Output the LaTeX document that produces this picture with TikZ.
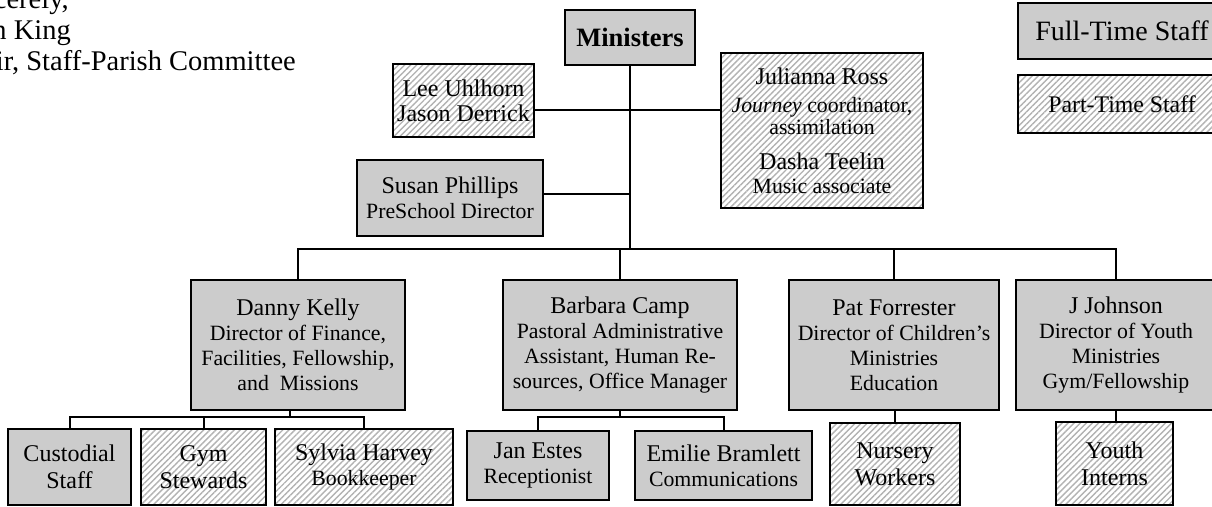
\documentclass[tikz,border=0pt]{standalone}
\usepackage{fontspec}
\setmainfont{Liberation Serif}
\usetikzlibrary{patterns.meta}
\definecolor{fullgray}{RGB}{204,204,204}
\newcommand{\nmf}{\fontsize{24}{25}\selectfont}
\newcommand{\sbf}{\fontsize{21.8}{25}\selectfont}
\tikzset{
  conn/.style={line width=2pt},
  boxbase/.style={draw, line width=2.2pt, inner sep=0pt, align=center, font=\nmf},
  fullbox/.style={boxbase, fill=fullgray},
  partbox/.style={boxbase, pattern={Lines[angle=45,distance=4.3pt,line width=1.4pt]}, pattern color=black!30},
  sz/.style n args={2}{minimum width=#1pt, minimum height=#2pt},
  sig/.style={anchor=base east, inner sep=0pt, font=\fontsize{28.5}{31}\selectfont},
}
\begin{document}
\begin{tikzpicture}[x=1pt,y=-1pt]
\useasboundingbox (0,0) rectangle (1212,506);
\clip (0,0) rectangle (1212,506);

% signature text (cut at left edge, as in the reference)
\node[sig] (t1) at (69,9) {ncerely,};
\node[sig] (t2) at (71,39) {n King};
\node[sig] (t3) at (296,70) {ir, Staff-Parish Committee};

% legend
\node[fullbox, sz={208}{56}, font=\fontsize{28}{30}\selectfont] (ft) at (1122,31) {Full-Time Staff};
\node[partbox, sz={208}{58}, font=\fontsize{23.8}{25}\selectfont] (pt) at (1122,104) {Part-Time Staff};

% top
\node[fullbox, sz={130}{55}, font=\bfseries\fontsize{26.5}{28}\selectfont] (min) at (630,37.5) {Ministers};
\node[partbox, sz={141}{73}] (lee) at (463.5,100.5) {Lee Uhlhorn\\[0pt] Jason Derrick};
\node[fullbox, sz={186}{76}] (sus) at (450,198) {Susan Phillips\\ \sbf PreSchool Director};
\node[partbox, sz={202}{155}] (jul) at (822,130.5) {Julianna Ross\\[3pt] \sbf\textit{Journey} coordinator,\\[-3pt] \sbf assimilation\\[10pt] Dasha Teelin\\[-1pt] \sbf Music associate};

% directors
\node[fullbox, sz={214}{130}] (dan) at (298,345) {Danny Kelly\\ \sbf Director of Finance,\\ \sbf Facilities, Fellowship,\\ \sbf and\ \ Missions};
\node[fullbox, sz={234}{130}] (bar) at (620,345) {Barbara Camp\\ \sbf Pastoral Administrative\\ \sbf Assistant, Human Re-\\ \sbf sources, Office Manager};
\node[fullbox, sz={210}{130}] (pat) at (894,345) {Pat Forrester\\ \sbf Director of Children’s\\ \sbf Ministries\\ \sbf Education};
\node[fullbox, sz={200}{130}] (jj) at (1116,345) {J Johnson\\ \sbf Director of Youth\\ \sbf Ministries\\ \sbf Gym/Fellowship};

% bottom row
\node[fullbox, sz={123}{76}] (cus) at (69.5,467) {Custodial\\[2pt] Staff};
\node[partbox, sz={125}{76}] (gym) at (203.5,467) {Gym\\[2pt] Stewards};
\node[partbox, sz={178}{76}] (syl) at (364,467) {Sylvia Harvey\\ \sbf Bookkeeper};
\node[fullbox, sz={142}{69}] (jan) at (538,465.5) {Jan Estes\\ \sbf Receptionist};
\node[fullbox, sz={177}{69}] (emi) at (723.5,465.5) {Emilie Bramlett\\ \sbf Communications};
\node[partbox, sz={130}{82}] (nur) at (895,464) {Nursery\\[2pt] Workers};
\node[partbox, sz={117}{83}] (you) at (1114.5,463.5) {Youth\\[2pt] Interns};

% connectors
\coordinate (bus) at (630,249);
\coordinate (lj) at (630,110);
\coordinate (sj) at (630,194);
\coordinate (dbus) at (290,417);
\coordinate (bbus) at (620,417);
\draw[conn] (min.south) -- (bus);
\draw[conn] (lee.east|-lj) -- (jul.west|-lj);
\draw[conn] (sus.east|-sj) -- (sj);
\draw[conn] (dan.north) |- (bus) -| (jj.north);
\draw[conn] (bar.north) -- (bar.north|-bus);
\draw[conn] (pat.north) -- (pat.north|-bus);
\draw[conn] (cus.north) |- (dbus) -| (syl.north);
\draw[conn] (gym.north) -- (gym.north|-dbus);
\draw[conn] (dbus) -- (dbus|-dan.south);
\draw[conn] (jan.north) |- (bbus) -| (emi.north);
\draw[conn] (bbus) -- (bar.south);
\draw[conn] (nur.north) -- (nur.north|-pat.south);
\draw[conn] (jj.south) -- (jj.south|-you.north);
\end{tikzpicture}
\end{document}
